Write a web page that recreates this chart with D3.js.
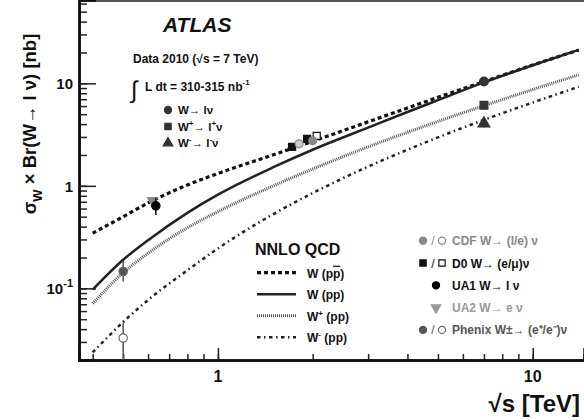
<!DOCTYPE html>
<html>
<head>
<meta charset="utf-8">
<script src="https://cdn.jsdelivr.net/npm/d3@7"></script>
<style>
  body { margin: 0; background: #fff; }
  svg { display: block; font-family: 'Liberation Sans', Arial, sans-serif; font-weight: bold; }
</style>
</head>
<body>
<div id="chart"></div>
<script>
// NNLO QCD predictions, sigma x Br in nb, vs sqrt(s) in TeV
const sqrtS = [0.4, 0.5, 0.6, 0.8, 1.0, 1.5, 2, 3, 4, 5, 7, 10, 14];
const wPPbar = [0.345, 0.50, 0.68, 1.02, 1.32, 2.01, 2.72, 4.21, 5.75, 7.3, 10.4, 15.1, 21.1];
const wPP = [0.097, 0.19, 0.295, 0.545, 0.82, 1.52, 2.25, 3.7, 5.25, 6.85, 10.2, 15.0, 21.2];
const wPlus = [0.071, 0.142, 0.22, 0.39, 0.56, 1.0, 1.46, 2.4, 3.33, 4.25, 6.05, 8.7, 12.1];
const wMinus = [0.0237, 0.047, 0.077, 0.15, 0.245, 0.53, 0.85, 1.54, 2.25, 2.97, 4.4, 6.5, 9.25];

// measurements
const atlas = [
  { x: 7, y: 10.4, err: 0.9, shape: 'circle' },
  { x: 7, y: 6.1, err: 0.5, shape: 'square' },
  { x: 7, y: 4.05, err: 0.35, shape: 'triangle' },
];
const cdf = [
  { x: 1.81, y: 2.57, open: true },
  { x: 2.0, y: 2.75, open: false },
];
const d0 = [
  { x: 1.72, y: 2.40, open: false },
  { x: 1.92, y: 2.87, open: false },
  { x: 2.06, y: 3.07, open: true },
];
const ua1 = [{ x: 0.635, y: 0.638, lo: 0.52, hi: 0.764 }];
const ua2 = [{ x: 0.62, y: 0.72 }];
const phenix = [
  { x: 0.5, y: 0.146, lo: 0.116, hi: 0.185, open: false },
  { x: 0.5, y: 0.0327, lo: 0.005, hi: 0.0464, open: true },
];

const yMajor = [0.1, 1, 10];
const xMajor = [1, 10];

const width = 584;
const height = 420;
const plot = { left: 79, right: 584, top: 0, bottom: 360 };

const svg = d3.select('#chart').append('svg')
  .attr('width', width)
  .attr('height', height);

const x = d3.scaleLog().domain([0.362, 14.55]).range([plot.left, plot.right]);
const y = d3.scaleLog().domain([0.02, 65]).range([plot.bottom, plot.top]);

// minor tick values
const minorVals = (lo, hi) => {
  const out = [];
  for (let e = -3; e <= 3; e++) {
    for (let m = 1; m < 10; m++) {
      const v = m * 10 ** e;
      if (v >= lo && v <= hi) out.push(+v.toPrecision(3));
    }
  }
  return out;
};

svg.append('defs').append('clipPath').attr('id', 'clip')
  .append('rect')
  .attr('x', plot.left).attr('y', plot.top)
  .attr('width', plot.right - plot.left).attr('height', plot.bottom - plot.top);

// frame
svg.append('line')
  .attr('x1', plot.left).attr('x2', plot.right)
  .attr('y1', 1).attr('y2', 1)
  .attr('stroke', '#555').attr('stroke-width', 2);

// axes (ticks point inward)
const yMinor = d3.axisRight(y).tickValues(minorVals(0.02, 65)).tickSize(8).tickFormat('');
const yMaj = d3.axisRight(y).tickValues(yMajor).tickSize(17).tickFormat('');
const xMinor = d3.axisTop(x).tickValues(minorVals(0.362, 14.55)).tickSize(6).tickFormat('');
const xMaj = d3.axisTop(x).tickValues(xMajor).tickSize(12).tickFormat('');

[yMinor, yMaj].forEach((ax) => {
  svg.append('g').attr('transform', `translate(${plot.left},0)`).call(ax)
    .call((g) => g.selectAll('line').attr('stroke', '#222').attr('stroke-width', 1.5))
    .call((g) => g.select('.domain').attr('stroke', '#111').attr('stroke-width', 2.5));
});
[xMinor, xMaj].forEach((ax) => {
  svg.append('g').attr('transform', `translate(0,${plot.bottom})`).call(ax)
    .call((g) => g.selectAll('line').attr('stroke', '#222').attr('stroke-width', 1.5))
    .call((g) => g.select('.domain').attr('stroke', '#111').attr('stroke-width', 2.5));
});

// tick labels
yMajor.forEach((v) => {
  const t = svg.append('text')
    .attr('x', 73).attr('y', y(v) + 6)
    .attr('text-anchor', 'end')
    .attr('font-size', 15)
    .attr('fill', '#111');
  if (v < 1) {
    t.append('tspan').text('10');
    t.append('tspan').attr('dy', -7).attr('font-size', 11).text('-1');
  } else {
    t.text(v);
  }
});
xMajor.forEach((v) => {
  svg.append('text')
    .attr('x', x(v)).attr('y', 382)
    .attr('text-anchor', 'middle')
    .attr('font-size', 16)
    .attr('fill', '#111')
    .text(v);
});

// axis titles
const yTitle = svg.append('text')
  .attr('transform', 'translate(36,124) rotate(-90)')
  .attr('text-anchor', 'middle')
  .attr('font-size', 18.5)
  .attr('fill', '#111');
yTitle.append('tspan').text('σ');
yTitle.append('tspan').attr('dy', 6).attr('font-size', 13).text('W');
yTitle.append('tspan').attr('dy', -6).text(' × Br(W→ l ν) [nb]');

const xTitle = svg.append('text')
  .attr('x', 580).attr('y', 412)
  .attr('text-anchor', 'end')
  .attr('font-size', 24)
  .attr('fill', '#111');
xTitle.append('tspan').text('√');
xTitle.append('tspan').text('s [TeV]');

// theory curves
const curves = [
  { vals: wPPbar, dash: '4,3', width: 3.2, color: '#111' },
  { vals: wPP, dash: null, width: 2.5, color: '#222' },
  { vals: wPlus, dash: '1,1', width: 3, color: '#555' },
  { vals: wMinus, dash: '3.5,3.5,1.5,3.5', width: 2.5, color: '#222' },
];
const line = d3.line()
  .x((d) => x(d[0]))
  .y((d) => y(d[1]))
  .curve(d3.curveMonotoneX);

const gCurves = svg.append('g').attr('clip-path', 'url(#clip)');
curves.forEach((c) => {
  gCurves.append('path')
    .attr('d', line(sqrtS.map((s, i) => [s, c.vals[i]])))
    .attr('fill', 'none')
    .attr('stroke', c.color)
    .attr('stroke-width', c.width)
    .attr('stroke-dasharray', c.dash);
});

// markers
const gPts = svg.append('g').attr('clip-path', 'url(#clip)');
const errBar = (px, lo, hi, color) => {
  gPts.append('line')
    .attr('x1', x(px)).attr('x2', x(px))
    .attr('y1', y(lo)).attr('y2', y(hi))
    .attr('stroke', color).attr('stroke-width', 1.5);
};
const marker = (g, cx, cy, shape, fill, stroke, size) => {
  const sym = { circle: d3.symbolCircle, square: d3.symbolSquare, triangle: d3.symbolTriangle, down: d3.symbolTriangle }[shape];
  g.append('path')
    .attr('d', d3.symbol().type(sym).size(size)())
    .attr('transform', `translate(${cx},${cy})${shape === 'down' ? ' rotate(180)' : ''}`)
    .attr('fill', fill)
    .attr('stroke', stroke)
    .attr('stroke-width', 1.2);
};

phenix.forEach((p) => {
  errBar(p.x, p.lo, p.hi, '#555');
  marker(gPts, x(p.x), y(p.y), 'circle', p.open ? '#fff' : '#555', '#666', 55);
});
ua2.forEach((p) => marker(gPts, x(p.x), y(p.y), 'down', '#888', '#888', 45));
ua1.forEach((p) => {
  errBar(p.x, p.lo, p.hi, '#111');
  marker(gPts, x(p.x), y(p.y), 'circle', '#000', '#000', 55);
});
d0.forEach((p) => marker(gPts, x(p.x), y(p.y), 'square', p.open ? '#fff' : '#111', '#111', 50));
cdf.forEach((p) => marker(gPts, x(p.x), y(p.y), 'circle', p.open ? '#ccc' : '#888', '#888', 50));
atlas.forEach((p) => {
  errBar(p.x, p.y - p.err, p.y + p.err, '#333');
  marker(gPts, x(p.x), y(p.y), p.shape, '#333', '#333', 60);
});

// ATLAS label block
svg.append('text')
  .attr('x', 163).attr('y', 32)
  .attr('font-size', 21).attr('font-style', 'italic')
  .attr('fill', '#111')
  .text('ATLAS');
svg.append('text')
  .attr('x', 133).attr('y', 63)
  .attr('font-size', 12).attr('fill', '#111')
  .text('Data 2010 (√s = 7 TeV)');
svg.append('text')
  .attr('x', 131).attr('y', 98)
  .attr('font-size', 24).attr('font-weight', 'normal').attr('fill', '#111')
  .text('∫');
const lumi = svg.append('text')
  .attr('x', 145).attr('y', 91)
  .attr('font-size', 12).attr('fill', '#111');
lumi.append('tspan').text('L dt = 310-315 nb');
lumi.append('tspan').attr('dy', -6).attr('font-size', 8).text('-1');

const atlasLeg = [
  { shape: 'circle', label: ['W→ lν'] },
  { shape: 'square', label: ['W', '+', '→ l', '+', 'ν'] },
  { shape: 'triangle', label: ['W', '-', '→ l', '-', 'ν'] },
];
atlasLeg.forEach((d, i) => {
  const yy = 110 + i * 16.5;
  marker(svg, 168, yy, d.shape, '#333', '#333', 40);
  const t = svg.append('text').attr('x', 178).attr('y', yy + 4)
    .attr('font-size', 11.5).attr('fill', '#111');
  d.label.forEach((s, k) => {
    if (k % 2 === 1) t.append('tspan').attr('dy', -5).attr('font-size', 8).text(s);
    else t.append('tspan').attr('dy', k === 0 ? 0 : 5).text(s);
  });
});

// NNLO legend
svg.append('text')
  .attr('x', 255).attr('y', 255)
  .attr('font-size', 16).attr('fill', '#111')
  .text('NNLO QCD');
const nnloLabels = [
  ['W (p', 'p', ')', 'bar'],
  ['W (pp)', null, null, null],
  ['W', '+', ' (pp)', 'sup'],
  ['W', '-', ' (pp)', 'sup'],
];
curves.forEach((c, i) => {
  const yy = 272.7 + i * 21.5;
  svg.append('line')
    .attr('x1', 257).attr('x2', 296)
    .attr('y1', yy).attr('y2', yy)
    .attr('stroke', c.color).attr('stroke-width', c.width)
    .attr('stroke-dasharray', c.dash);
  const t = svg.append('text').attr('x', 307).attr('y', yy + 5)
    .attr('font-size', 12).attr('fill', '#111');
  const [a, b, cc, kind] = nnloLabels[i];
  t.append('tspan').text(a);
  if (kind === 'sup') {
    t.append('tspan').attr('dy', -5).attr('font-size', 8).text(b);
    t.append('tspan').attr('dy', 5).text(cc);
  } else if (kind === 'bar') {
    t.append('tspan').attr('text-decoration', 'overline').text(b);
    t.append('tspan').text(cc);
  }
});

// experiments legend
const expLeg = [
  { marks: [['circle', '#888', '#888'], ['circle', '#fff', '#888']], label: 'CDF W→ (l/e) ν', color: '#888' },
  { marks: [['square', '#111', '#111'], ['square', '#fff', '#111']], label: 'D0 W→ (e/μ)ν', color: '#111' },
  { marks: [['circle', '#000', '#000']], label: 'UA1 W→ l ν', color: '#111' },
  { marks: [['down', '#999', '#999']], label: 'UA2 W→ e ν', color: '#999' },
  { marks: [['circle', '#555', '#555'], ['circle', '#fff', '#666']], label: 'Phenix W±→ (e⁺/e⁻)ν', color: '#555' },
];
expLeg.forEach((d, i) => {
  const yy = 240.7 + i * 22.3;
  if (d.marks.length === 2) {
    marker(svg, 423, yy, d.marks[0][0], d.marks[0][1], d.marks[0][2], 40);
    svg.append('text').attr('x', 433).attr('y', yy + 4.5).attr('text-anchor', 'middle')
      .attr('font-size', 12).attr('font-weight', 'normal').attr('fill', d.color).text('/');
    marker(svg, 442, yy, d.marks[1][0], d.marks[1][1], d.marks[1][2], 40);
  } else {
    marker(svg, 436, yy, d.marks[0][0], d.marks[0][1], d.marks[0][2], 40);
  }
  svg.append('text').attr('x', 452).attr('y', yy + 4.5)
    .attr('font-size', 12).attr('fill', d.color)
    .text(d.label);
});
</script>
</body>
</html>
